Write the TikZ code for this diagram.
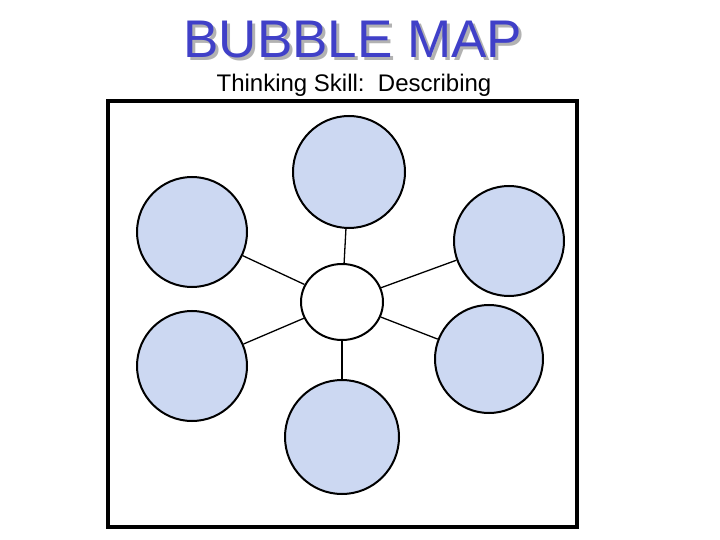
\documentclass[tikz,border=0pt]{standalone}
\usepackage{fontspec}
\setmainfont{Liberation Sans}
\usetikzlibrary{shapes.geometric}
\begin{document}
\begin{tikzpicture}[x=1pt,y=-1pt,
  bub/.style={circle,draw=black,line width=2pt,fill=bubfill,minimum size=110pt,inner sep=0pt},
  conn/.style={draw=black,line width=1.3pt}]
\definecolor{bubfill}{RGB}{204,216,242}
\definecolor{titleblue}{RGB}{64,64,200}
\useasboundingbox (0,0) rectangle (720,540);
\node[text=gray!60,font=\fontsize{53}{60}\selectfont] at (356,43) {BUBBLE MAP};
\node (title) [text=titleblue,font=\fontsize{53}{60}\selectfont] at (353,40) {BUBBLE MAP};
\node (sub) [font=\fontsize{24}{28}\selectfont] at (354,85) {Thinking Skill:\ \ Describing};
\draw[line width=4.5pt] (108,101) rectangle (577,527);
\node (c) [ellipse,draw=black,line width=2pt,fill=white,minimum width=82pt,minimum height=76pt,inner sep=0pt] at (342,302) {};
\node (t) [bub,minimum size=112pt] at (349,172) {};
\node (ul) [bub] at (192,232) {};
\node (ur) [bub] at (509,241) {};
\node (ll) [bub] at (192,366) {};
\node (lr) [bub,minimum size=108pt] at (489,359) {};
\node (b) [bub,minimum size=114pt] at (342,437) {};
\foreach \n in {t,ul,ur,ll,lr,b} \draw[conn] (c) -- (\n);
\end{tikzpicture}
\end{document}
